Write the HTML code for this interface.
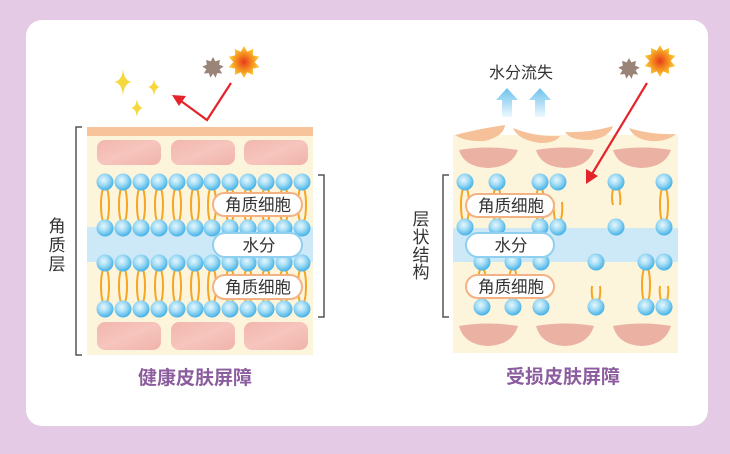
<!DOCTYPE html>
<html><head><meta charset="utf-8"><style>
html,body{margin:0;padding:0;background:#e4cae4;}
svg{display:block;}
text{font-family:"Liberation Sans","Noto Sans CJK SC",sans-serif;}
</style></head><body>
<svg width="730" height="454" viewBox="0 0 730 454" xmlns="http://www.w3.org/2000/svg">
<defs>
<radialGradient id="cg" cx="42%" cy="38%" r="62%">
<stop offset="0" stop-color="#e6f7fd"/><stop offset="0.45" stop-color="#a8def6"/><stop offset="1" stop-color="#45b2e6"/>
</radialGradient>
<radialGradient id="sun" cx="50%" cy="50%" r="50%">
<stop offset="0" stop-color="#e83a1c"/><stop offset="0.5" stop-color="#f48a1e"/><stop offset="1" stop-color="#fbd03a"/>
</radialGradient>
<linearGradient id="pk" x1="0" y1="0" x2="1" y2="1">
<stop offset="0" stop-color="#f2b6ae"/><stop offset="0.5" stop-color="#f6c5bd"/><stop offset="1" stop-color="#f0b3ab"/>
</linearGradient>
<linearGradient id="ba" x1="0" y1="0" x2="0" y2="1">
<stop offset="0" stop-color="#6cc2ee"/><stop offset="1" stop-color="#eef8fd"/>
</linearGradient>
</defs>
<rect x="0" y="0" width="730" height="454" fill="#e4cae4"/>
<rect x="26" y="20" width="682" height="406" rx="16" fill="#ffffff"/>

<!-- LEFT PANEL -->
<rect x="87" y="127" width="226" height="228" fill="#fdf4dc"/>
<rect x="87" y="127" width="226" height="9" fill="#f7c39b"/>
<rect x="87" y="227" width="226" height="35" fill="#cde9f8"/>
<rect x="97" y="140" width="64" height="25" rx="8" fill="url(#pk)"/>
<rect x="171" y="140" width="64" height="25" rx="8" fill="url(#pk)"/>
<rect x="244" y="140" width="64" height="25" rx="8" fill="url(#pk)"/>
<rect x="97" y="322" width="64" height="28" rx="8" fill="url(#pk)"/>
<rect x="171" y="322" width="64" height="28" rx="8" fill="url(#pk)"/>
<rect x="244" y="322" width="64" height="28" rx="8" fill="url(#pk)"/>

<g fill="none" stroke="#f5a623" stroke-width="2">
<ellipse cx="105" cy="205" rx="4" ry="19"/><ellipse cx="123" cy="205" rx="4" ry="19"/><ellipse cx="141" cy="205" rx="4" ry="19"/><ellipse cx="159" cy="205" rx="4" ry="19"/><ellipse cx="177" cy="205" rx="4" ry="19"/><ellipse cx="195" cy="205" rx="4" ry="19"/><ellipse cx="212" cy="205" rx="4" ry="19"/><ellipse cx="230" cy="205" rx="4" ry="19"/><ellipse cx="248" cy="205" rx="4" ry="19"/><ellipse cx="266" cy="205" rx="4" ry="19"/><ellipse cx="284" cy="205" rx="4" ry="19"/><ellipse cx="302" cy="205" rx="4" ry="19"/>
<ellipse cx="105" cy="286" rx="4" ry="19"/><ellipse cx="123" cy="286" rx="4" ry="19"/><ellipse cx="141" cy="286" rx="4" ry="19"/><ellipse cx="159" cy="286" rx="4" ry="19"/><ellipse cx="177" cy="286" rx="4" ry="19"/><ellipse cx="195" cy="286" rx="4" ry="19"/><ellipse cx="212" cy="286" rx="4" ry="19"/><ellipse cx="230" cy="286" rx="4" ry="19"/><ellipse cx="248" cy="286" rx="4" ry="19"/><ellipse cx="266" cy="286" rx="4" ry="19"/><ellipse cx="284" cy="286" rx="4" ry="19"/><ellipse cx="302" cy="286" rx="4" ry="19"/>
</g>
<g fill="url(#cg)">
<circle cx="105" cy="182" r="8.5"/><circle cx="123" cy="182" r="8.5"/><circle cx="141" cy="182" r="8.5"/><circle cx="159" cy="182" r="8.5"/><circle cx="177" cy="182" r="8.5"/><circle cx="195" cy="182" r="8.5"/><circle cx="212" cy="182" r="8.5"/><circle cx="230" cy="182" r="8.5"/><circle cx="248" cy="182" r="8.5"/><circle cx="266" cy="182" r="8.5"/><circle cx="284" cy="182" r="8.5"/><circle cx="302" cy="182" r="8.5"/>
<circle cx="105" cy="228" r="8.5"/><circle cx="123" cy="228" r="8.5"/><circle cx="141" cy="228" r="8.5"/><circle cx="159" cy="228" r="8.5"/><circle cx="177" cy="228" r="8.5"/><circle cx="195" cy="228" r="8.5"/><circle cx="212" cy="228" r="8.5"/><circle cx="230" cy="228" r="8.5"/><circle cx="248" cy="228" r="8.5"/><circle cx="266" cy="228" r="8.5"/><circle cx="284" cy="228" r="8.5"/><circle cx="302" cy="228" r="8.5"/>
<circle cx="105" cy="263" r="8.5"/><circle cx="123" cy="263" r="8.5"/><circle cx="141" cy="263" r="8.5"/><circle cx="159" cy="263" r="8.5"/><circle cx="177" cy="263" r="8.5"/><circle cx="195" cy="263" r="8.5"/><circle cx="212" cy="263" r="8.5"/><circle cx="230" cy="263" r="8.5"/><circle cx="248" cy="263" r="8.5"/><circle cx="266" cy="263" r="8.5"/><circle cx="284" cy="263" r="8.5"/><circle cx="302" cy="263" r="8.5"/>
<circle cx="105" cy="309" r="8.5"/><circle cx="123" cy="309" r="8.5"/><circle cx="141" cy="309" r="8.5"/><circle cx="159" cy="309" r="8.5"/><circle cx="177" cy="309" r="8.5"/><circle cx="195" cy="309" r="8.5"/><circle cx="212" cy="309" r="8.5"/><circle cx="230" cy="309" r="8.5"/><circle cx="248" cy="309" r="8.5"/><circle cx="266" cy="309" r="8.5"/><circle cx="284" cy="309" r="8.5"/><circle cx="302" cy="309" r="8.5"/>
</g>
<rect x="213" y="193" width="89" height="23" rx="11.5" fill="#fff" stroke="#f2b284" stroke-width="2"/>
<text x="258" y="210.5" font-size="16.5" text-anchor="middle" fill="#333">角质细胞</text>
<rect x="213" y="233" width="89" height="24" rx="12" fill="#fff" stroke="#8fd0f0" stroke-width="2"/>
<text x="259" y="251" font-size="16.5" text-anchor="middle" fill="#333">水分</text>
<rect x="213" y="275" width="89" height="24" rx="12" fill="#fff" stroke="#f2b284" stroke-width="2"/>
<text x="258" y="293" font-size="16.5" text-anchor="middle" fill="#333">角质细胞</text>

<path d="M82,127 H76 V355 H82" fill="none" stroke="#555" stroke-width="1.5"/>
<path d="M318,175 H324 V317 H318" fill="none" stroke="#555" stroke-width="1.5"/>
<text font-size="17" fill="#333" text-anchor="middle"><tspan x="57" y="232">角</tspan><tspan x="57" y="251">质</tspan><tspan x="57" y="270">层</tspan></text>
<text x="195" y="384" font-size="19" font-weight="bold" text-anchor="middle" fill="#8b5c9e">健康皮肤屏障</text>

<!-- sparkles -->
<g fill="#f6d73e">
<path d="M123,69 Q124,81 132,82 Q124,83 123,96 Q122,83 114,82 Q122,81 123,69 Z"/>
<path d="M154,79 Q155,86 160,87 Q155,88 154,96 Q153,88 148,87 Q153,86 154,79 Z"/>
<path d="M137,99 Q138,107 143,108 Q138,109 137,117 Q136,109 131,108 Q136,107 137,99 Z"/>
</g>
<!-- suns left -->
<polygon fill="#9a8377" points="213,57 215.3,61.4 219.9,59.9 219.2,64.7 223.7,66.5 219.6,69.3 222.1,73.5 217.2,73.1 215.6,77.8 213,73.6 210.4,77.8 208.8,73.1 203.9,73.5 206.4,69.3 202.3,66.5 206.8,64.7 206.1,59.9 210.7,61.4"/>
<g transform="translate(244,62)">
<polygon fill="url(#sun)" points="0,-16 3.2,-10.3 9.2,-13.1 8.8,-6.6 15.4,-5.2 10.6,0 15.4,5.2 8.8,6.6 9.2,13.1 3.2,10.3 0,16 -3.2,10.3 -9.2,13.1 -8.8,6.6 -15.4,5.2 -10.6,0 -15.4,-5.2 -8.8,-6.6 -9.2,-13.1 -3.2,-10.3"/>
</g>
<!-- red arrow left -->
<polyline points="231,83 207,120 181,101" fill="none" stroke="#e5232b" stroke-width="2.2"/>
<polygon points="172,95 186,96 179,106" fill="#e5232b"/>

<!-- RIGHT PANEL -->
<rect x="453" y="135" width="225" height="218" fill="#fdf4dc"/>
<rect x="453" y="228" width="225" height="34" fill="#cde9f8"/>
<g fill="#f6c199">
<path d="M455,135 Q478,129 505,125 Q504,136 485,141 Q465,142 455,135 Z"/>
<path d="M513,128 Q535,137 560,136 Q556,143 540,143 Q518,140 513,128 Z"/>
<path d="M565,132 Q590,133 613,126 Q608,139 588,140 Q570,140 565,132 Z"/>
<path d="M629,128 Q651,135 676,134 Q667,142 650,141 Q634,139 629,128 Z"/>
</g>
<g fill="#ebb1a3">
<path d="M459,150 Q488,145 518,150 Q512,167 488,168 Q464,167 459,150 Z"/>
<path d="M536,150 Q565,145 594,150 Q588,167 565,168 Q541,167 536,150 Z"/>
<path d="M613,150 Q642,145 671,150 Q665,167 642,168 Q618,167 613,150 Z"/>
<path d="M459,326 Q488,321 518,326 Q512,345 488,346 Q464,345 459,326 Z"/>
<path d="M536,326 Q565,321 594,326 Q588,345 565,346 Q541,345 536,326 Z"/>
<path d="M613,326 Q642,321 671,326 Q665,345 642,346 Q618,345 613,326 Z"/>
</g>
<g fill="none" stroke="#f5a623" stroke-width="2">
<ellipse cx="465" cy="205" rx="4" ry="19"/><ellipse cx="497" cy="205" rx="4" ry="19"/><ellipse cx="540" cy="205" rx="4" ry="19"/>
<path d="M555,220 Q553,210 554,202 M561,220 Q563,210 562,202"/>
<path d="M613,189 Q611,198 613,205 M619,189 Q621,198 620,205"/>
<ellipse cx="664" cy="205" rx="4" ry="19"/>
<ellipse cx="482" cy="286" rx="4" ry="19"/><ellipse cx="513" cy="286" rx="4" ry="19"/>
<path d="M593,301 Q591,292 592,286 M599,301 Q601,292 600,286"/>
<ellipse cx="646" cy="285" rx="4" ry="19"/>
<path d="M661,301 Q659,292 660,286 M667,301 Q669,292 668,286"/>
</g>
<g fill="url(#cg)">
<circle cx="465" cy="182" r="8.5"/><circle cx="497" cy="182" r="8.5"/><circle cx="540" cy="182" r="8.5"/><circle cx="558" cy="182" r="8.5"/><circle cx="616" cy="182" r="8.5"/><circle cx="664" cy="182" r="8.5"/>
<circle cx="465" cy="227" r="8.5"/><circle cx="497" cy="227" r="8.5"/><circle cx="540" cy="227" r="8.5"/><circle cx="558" cy="227" r="8.5"/><circle cx="616" cy="227" r="8.5"/><circle cx="664" cy="227" r="8.5"/>
<circle cx="482" cy="262" r="8.5"/><circle cx="513" cy="262" r="8.5"/><circle cx="541" cy="262" r="8.5"/><circle cx="596" cy="262" r="8.5"/><circle cx="646" cy="262" r="8.5"/><circle cx="664" cy="262" r="8.5"/>
<circle cx="482" cy="307" r="8.5"/><circle cx="513" cy="307" r="8.5"/><circle cx="541" cy="307" r="8.5"/><circle cx="596" cy="307" r="8.5"/><circle cx="646" cy="307" r="8.5"/><circle cx="664" cy="307" r="8.5"/>
</g>
<rect x="466" y="194" width="88" height="23" rx="11.5" fill="#fff" stroke="#f2b284" stroke-width="2"/>
<text x="511" y="211.5" font-size="16.5" text-anchor="middle" fill="#333">角质细胞</text>
<rect x="466" y="233" width="88" height="24" rx="12" fill="#fff" stroke="#8fd0f0" stroke-width="2"/>
<text x="511" y="251" font-size="16.5" text-anchor="middle" fill="#333">水分</text>
<rect x="466" y="275" width="88" height="23" rx="11.5" fill="#fff" stroke="#f2b284" stroke-width="2"/>
<text x="511" y="292.5" font-size="16.5" text-anchor="middle" fill="#333">角质细胞</text>

<path d="M449,175 H443 V317 H449" fill="none" stroke="#555" stroke-width="1.5"/>
<text font-size="17" fill="#333" text-anchor="middle"><tspan x="421" y="225">层</tspan><tspan x="421" y="243">状</tspan><tspan x="421" y="261">结</tspan><tspan x="421" y="278">构</tspan></text>
<text x="563" y="383" font-size="19" font-weight="bold" text-anchor="middle" fill="#8b5c9e">受损皮肤屏障</text>

<text x="521" y="78" font-size="16" text-anchor="middle" fill="#333">水分流失</text>
<path d="M507,88 L518,100 L512,100 L512,117 L502,117 L502,100 L496,100 Z" fill="url(#ba)"/>
<path d="M540,88 L551,100 L545,100 L545,117 L535,117 L535,100 L529,100 Z" fill="url(#ba)"/>

<polygon fill="#9a8377" points="629,58 631.3,62.4 635.9,60.9 635.2,65.7 639.7,67.5 635.6,70.3 638.1,74.5 633.2,74.1 631.6,78.8 629,74.6 626.4,78.8 624.8,74.1 619.9,74.5 622.4,70.3 618.3,67.5 622.8,65.7 622.1,60.9 626.7,62.4"/>
<g transform="translate(660,61)">
<polygon fill="url(#sun)" points="0,-16 3.2,-10.3 9.2,-13.1 8.8,-6.6 15.4,-5.2 10.6,0 15.4,5.2 8.8,6.6 9.2,13.1 3.2,10.3 0,16 -3.2,10.3 -9.2,13.1 -8.8,6.6 -15.4,5.2 -10.6,0 -15.4,-5.2 -8.8,-6.6 -9.2,-13.1 -3.2,-10.3"/>
</g>
<line x1="647" y1="83" x2="592" y2="174" stroke="#e5232b" stroke-width="2.2"/>
<polygon points="586,184 586,169 598,176" fill="#e5232b"/>
</svg>
</body></html>
